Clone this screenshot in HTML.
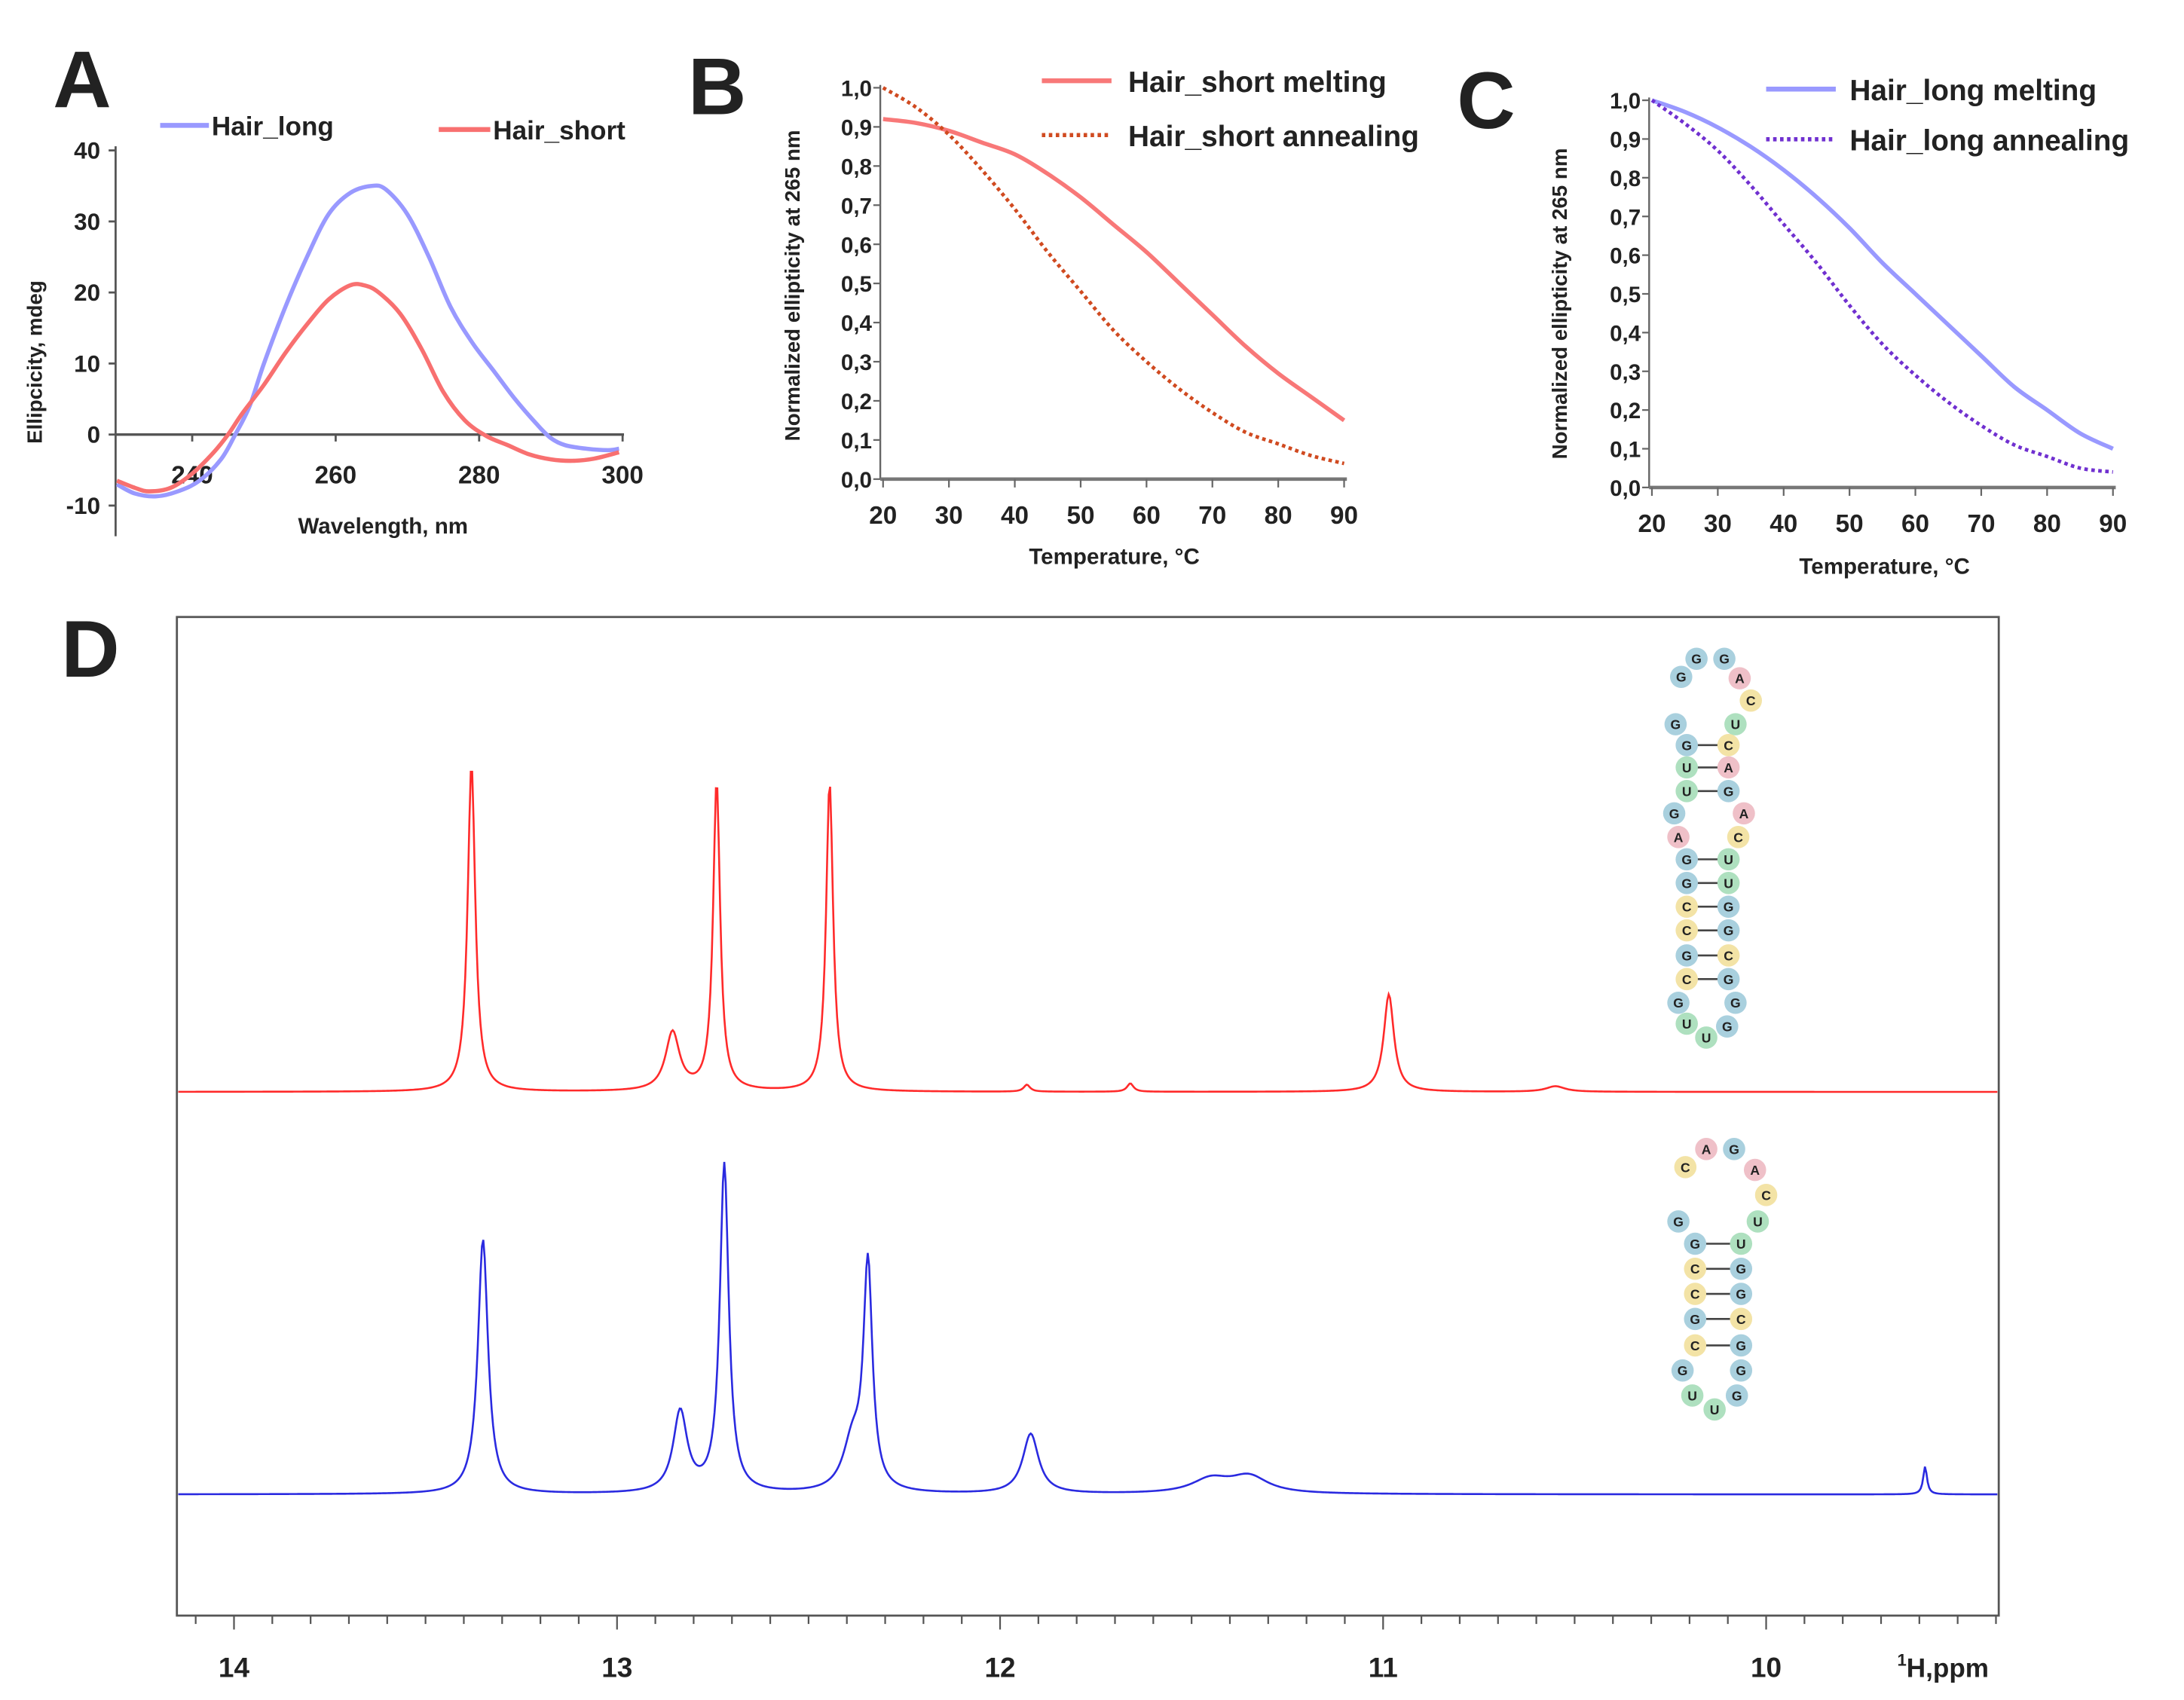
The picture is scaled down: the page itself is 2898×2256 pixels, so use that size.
<!DOCTYPE html>
<html><head><meta charset="utf-8"><style>
html,body{margin:0;padding:0;background:#fff;}
svg{display:block;}
text{font-family:"Liberation Sans",Arial,sans-serif;font-weight:bold;fill:#222;}
</style></head><body>
<svg id="fig" xmlns="http://www.w3.org/2000/svg" width="2898" height="2256" viewBox="0 0 1568 1220.6" preserveAspectRatio="none">
<rect x="0" y="0" width="1568" height="1221" fill="#fff"/>
<text x="38" y="77" font-size="58">A</text>
<line x1="115" y1="90" x2="150" y2="90" stroke="#9999ff" stroke-width="3.5"/>
<text x="152" y="97" font-size="19">Hair_long</text>
<line x1="315" y1="93" x2="352" y2="93" stroke="#f87070" stroke-width="3.5"/>
<text x="354" y="100" font-size="19">Hair_short</text>
<text transform="translate(30,260) rotate(-90)" font-size="15" text-anchor="middle">Ellipcicity, mdeg</text>
<text x="275" y="383" font-size="16" text-anchor="middle">Wavelength, nm</text>
<text x="494" y="82" font-size="58">B</text>
<line x1="748" y1="58" x2="798" y2="58" stroke="#f87878" stroke-width="3.5"/>
<text x="810" y="66" font-size="21">Hair_short melting</text>
<line x1="748" y1="97" x2="798" y2="97" stroke="#d04a20" stroke-width="3" stroke-dasharray="2.5,2.5"/>
<text x="810" y="105" font-size="21">Hair_short annealing</text>
<text transform="translate(574,205) rotate(-90)" font-size="15" text-anchor="middle">Normalized ellipticity at 265 nm</text>
<text x="800" y="405" font-size="16" text-anchor="middle">Temperature, °C</text>
<text x="1046" y="92" font-size="58">C</text>
<line x1="1268" y1="64" x2="1318" y2="64" stroke="#9999ff" stroke-width="3.5"/>
<text x="1328" y="72" font-size="21">Hair_long melting</text>
<line x1="1268" y1="100" x2="1318" y2="100" stroke="#7030d0" stroke-width="3" stroke-dasharray="2.5,2.5"/>
<text x="1328" y="108" font-size="21">Hair_long annealing</text>
<text transform="translate(1125,218) rotate(-90)" font-size="15" text-anchor="middle">Normalized ellipticity at 265 nm</text>
<text x="1353" y="412" font-size="16" text-anchor="middle">Temperature, °C</text>
<text x="44" y="486" font-size="58">D</text>
<rect x="127" y="443" width="1308" height="717" fill="none" stroke="#555" stroke-width="1.5"/>
<text x="1395" y="1204" font-size="19" text-anchor="middle"><tspan font-size="12" dy="-8">1</tspan><tspan dy="8">H,ppm</tspan></text>
<g id="layer"></g>
</svg>
<script>
var aWave = [229.5,232,235,238,241,244,246,248,250,253,256,259,262,265,267,270,273,276,279,282,285,288,290,292,295,298,299.5];
var aLong = [-7,-8.3,-8.7,-8,-6.5,-3.5,0,4,10,18,25,31,34,35,34.5,31,25,18,13,9,5,1.5,-0.5,-1.5,-2,-2.2,-2];
var aWave2 = [229.5,232,234,237,240,243,245,247,250,253,256,259,262,264,266,269,272,275,278,281,284,287,290,293,296,299.5];
var aShort = [-6.5,-7.5,-8,-7.5,-5.5,-2.5,0,3,7,11.5,15.5,19,21,21,20,17,12,6,2,-0.2,-1.5,-2.8,-3.5,-3.7,-3.4,-2.5];
var aXTicks = [240,260,280,300];
var aYTicks = [-10,0,10,20,30,40];

var temps = [20,25,30,35,40,45,50,55,60,65,70,75,80,85,90];
var bMelt = [0.92,0.91,0.89,0.86,0.83,0.78,0.72,0.65,0.58,0.50,0.42,0.34,0.27,0.21,0.15];
var bAnneal = [1.0,0.95,0.88,0.79,0.69,0.58,0.48,0.38,0.30,0.23,0.17,0.12,0.09,0.06,0.04];
var cMelt = [1.0,0.97,0.93,0.88,0.82,0.75,0.67,0.58,0.50,0.42,0.34,0.26,0.20,0.14,0.10];
var cAnneal = [1.0,0.94,0.87,0.78,0.68,0.58,0.47,0.37,0.29,0.22,0.16,0.11,0.08,0.05,0.04];
var tTicks = [20,30,40,50,60,70,80,90];
var nTicks = [0,0.1,0.2,0.3,0.4,0.5,0.6,0.7,0.8,0.9,1.0];

var redPeakPos = [13.38,12.855,12.74,12.445,10.985,11.93,11.66,10.55];
var redPeakHeight = [235,42,222,222,70,5,6,4];
var redPeakWidth = [0.012,0.022,0.011,0.011,0.016,0.01,0.01,0.03];
var bluePeakPos = [13.35,12.835,12.72,12.345,12.385,11.92,11.45,11.35,9.585];
var bluePeakHeight = [183,58,236,160,35,43,10,12,20];
var bluePeakWidth = [0.016,0.022,0.014,0.014,0.03,0.025,0.06,0.06,0.006];
var ppmTicks = [14,13,12,11,10];

var NS='http://www.w3.org/2000/svg';
var layer=document.getElementById('layer');
function mk(tag,attrs,name){
  var el=document.createElementNS(NS,tag);
  for(var k in attrs){el.setAttribute(k,attrs[k]);}
  
  
  layer.appendChild(el);
  return el;
}
function txt(x,y,s,size,anchor,name){
  var t=mk('text',{x:x,y:y,'font-size':size,'text-anchor':anchor||'middle'},name);
  t.textContent=s;return t;
}
function smoothPath(xs,ys,fx,fy){
  var P=xs.map(function(x,i){return [fx(x),fy(ys[i])];});
  var d='M'+P[0][0]+','+P[0][1];
  for(var i=0;i<P.length-1;i++){
    var p0=P[Math.max(0,i-1)],p1=P[i],p2=P[i+1],p3=P[Math.min(P.length-1,i+2)];
    var c1x=p1[0]+(p2[0]-p0[0])/6,c1y=p1[1]+(p2[1]-p0[1])/6;
    var c2x=p2[0]-(p3[0]-p1[0])/6,c2y=p2[1]-(p3[1]-p1[1])/6;
    d+='C'+c1x.toFixed(2)+','+c1y.toFixed(2)+' '+c2x.toFixed(2)+','+c2y.toFixed(2)+' '+p2[0].toFixed(2)+','+p2[1].toFixed(2);
  }
  return d;
}
function fmt(v){return v.toFixed(1).replace('.',',');}

var ax=function(w){return 138+(w-240)*5.15;};
var ay=function(v){return 312-v*5.1;};
mk('line',{x1:83,y1:105,x2:83,y2:385,stroke:'#555','stroke-width':1.5},'a-y-axis');
mk('line',{x1:83,y1:ay(0),x2:448,y2:ay(0),stroke:'#555','stroke-width':1.8},'a-x-axis');
aYTicks.forEach(function(v){
  mk('line',{x1:78,y1:ay(v),x2:83,y2:ay(v),stroke:'#555','stroke-width':1.5},'a-y-tick');
  txt(72,ay(v)+6,String(v),17,'end','a-y-tick-label');
});
aXTicks.forEach(function(w){
  mk('line',{x1:ax(w),y1:ay(0),x2:ax(w),y2:ay(0)+5,stroke:'#555','stroke-width':1.5},'a-x-tick');
  txt(ax(w),347,String(w),18,'middle','a-x-tick-label');
});
mk('path',{d:smoothPath(aWave,aLong,ax,ay),fill:'none',stroke:'#9999ff','stroke-width':3},'hair-long-spectrum');
mk('path',{d:smoothPath(aWave2,aShort,ax,ay),fill:'none',stroke:'#f87070','stroke-width':3},'hair-short-spectrum');

function tempPanel(x0,x1,y1,y0,melt,ann,mc,ac,pre){
  var fx=function(t){return x0+(t-20)*(x1-x0)/70;};
  var fy=function(v){return y0-v*(y0-y1);};
  mk('line',{x1:x0-2,y1:y1-2,x2:x0-2,y2:y0,stroke:'#666','stroke-width':1.3},pre+'-y-axis');
  mk('line',{x1:x0-2,y1:y0,x2:x1+2,y2:y0,stroke:'#777','stroke-width':2.5},pre+'-x-axis');
  nTicks.forEach(function(v){
    mk('line',{x1:x0-7,y1:fy(v),x2:x0-2,y2:fy(v),stroke:'#666','stroke-width':1.2},pre+'-y-tick');
    txt(x0-8,fy(v)+6,fmt(v),16,'end',pre+'-y-tick-label');
  });
  tTicks.forEach(function(t){
    mk('line',{x1:fx(t),y1:y0,x2:fx(t),y2:y0+6,stroke:'#666','stroke-width':1.2},pre+'-x-tick');
    txt(fx(t),y0+32,String(t),18,'middle',pre+'-x-tick-label');
  });
  mk('path',{d:smoothPath(temps,melt,fx,fy),fill:'none',stroke:mc,'stroke-width':3},pre+'-melting-curve');
  mk('path',{d:smoothPath(temps,ann,fx,fy),fill:'none',stroke:ac,'stroke-width':2.6,'stroke-dasharray':'2.5,2.5'},pre+'-annealing-curve');
}
tempPanel(634,965,63,344,bMelt,bAnneal,'#f87878','#d04a20','b');
tempPanel(1186,1517,72,350,cMelt,cAnneal,'#9999ff','#7030d0','c');

var px=function(p){return 168+(14-p)*275;};
ppmTicks.forEach(function(p){
  txt(px(p),1204,String(p),20,'middle','d-x-tick-label');
});
for(var i=0;i<=47;i++){
  var p=14.1-i*0.1; var X=px(p);
  if(X<127||X>1435) continue;
  var major=Math.abs(p-Math.round(p))<0.01;
  mk('line',{x1:X,y1:1160,x2:X,y2:major?1170:1166,stroke:'#555','stroke-width':1.2},'d-x-tick');
}
function spectrum(pos,h,w,base,color,name){
  var d='';
  for(var X=128;X<=1434;X+=1){
    var p=14-(X-168)/275, y=base;
    for(var k=0;k<pos.length;k++){var u=(p-pos[k])/w[k];y-=h[k]/(1+u*u);}
    d+=(X===128?'M':'L')+X+','+y.toFixed(2);
  }
  mk('path',{d:d,fill:'none',stroke:color,'stroke-width':1.4},name);
}
spectrum(redPeakPos,redPeakHeight,redPeakWidth,784,'#ff2a2a','hair-short-nmr-spectrum');
spectrum(bluePeakPos,bluePeakHeight,bluePeakWidth,1073,'#2a2ae0','hair-long-nmr-spectrum');

var col={G:'#a9d0de',A:'#efc0c8',C:'#f3e3a6',U:'#aee0bf'};
function nt(x,y,b,name){
  mk('circle',{cx:x,cy:y,r:8,fill:col[b]},name+'-circle');
  txt(x,y+3.5,b,9.5,'middle',name+'-letter');
}
function bond(x1,x2,y,name){mk('line',{x1:x1+6,y1:y,x2:x2-6,y2:y,stroke:'#444','stroke-width':1.4},name);}
var topLoop=[[1207,486,'G'],[1218,473,'G'],[1238,473,'G'],[1249,487,'A'],[1257,503,'C'],[1246,520,'U'],[1203,520,'G'],
 [1202,584,'G'],[1252,584,'A'],[1205,601,'A'],[1248,601,'C'],[1205,720,'G'],[1246,720,'G'],[1211,735,'U'],[1225,745,'U'],[1240,737,'G']];
var topPairs=[[535,'G','C'],[551,'U','A'],[568,'U','G'],[617,'G','U'],[634,'G','U'],[651,'C','G'],[668,'C','G'],[686,'G','C'],[703,'C','G']];
topPairs.forEach(function(r){bond(1211,1241,r[0],'short-base-pair-bond');});
topLoop.forEach(function(n){nt(n[0],n[1],n[2],'short-nucleotide');});
topPairs.forEach(function(r){nt(1211,r[0],r[1],'short-nucleotide');nt(1241,r[0],r[2],'short-nucleotide');});
var botLoop=[[1210,838,'C'],[1225,825,'A'],[1245,825,'G'],[1260,840,'A'],[1268,858,'C'],[1262,877,'U'],[1205,877,'G'],
 [1208,984,'G'],[1250,984,'G'],[1215,1002,'U'],[1231,1012,'U'],[1247,1002,'G']];
var botPairs=[[893,'G','U'],[911,'C','G'],[929,'C','G'],[947,'G','C'],[966,'C','G']];
botPairs.forEach(function(r){bond(1217,1250,r[0],'long-base-pair-bond');});
botLoop.forEach(function(n){nt(n[0],n[1],n[2],'long-nucleotide');});
botPairs.forEach(function(r){nt(1217,r[0],r[1],'long-nucleotide');nt(1250,r[0],r[2],'long-nucleotide');});
</script>
</body></html>
